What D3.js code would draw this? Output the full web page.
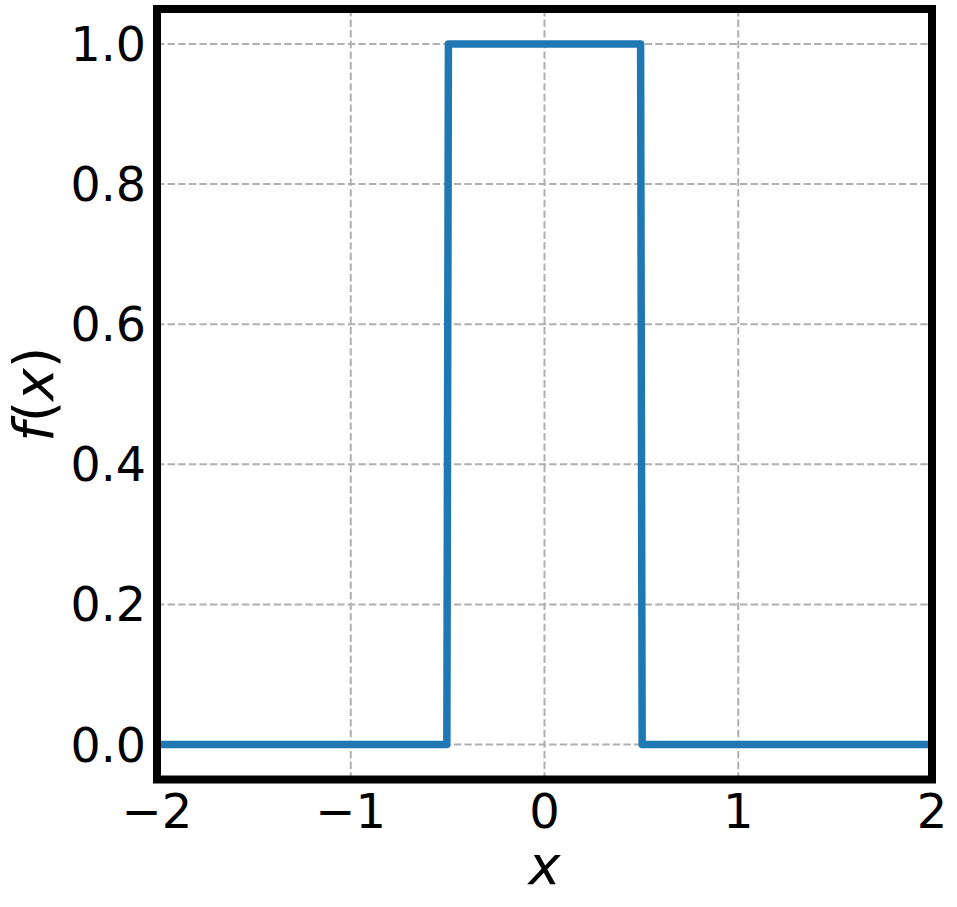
<!DOCTYPE html>
<html><head><meta charset="utf-8">
<script src="https://cdn.jsdelivr.net/npm/d3@7"></script>
<style>body{margin:0;background:#fff}svg{display:block}text{font-family:"DejaVu Sans",sans-serif}</style>
</head><body>
<script>
const xData = [-2, -0.504, -0.496, 0.496, 0.504, 2];
const yData = [0, 0, 1, 1, 0, 0];
const xTicks = [-2, -1, 0, 1, 2];
const yTicks = [0, 0.2, 0.4, 0.6, 0.8, 1.0];

const W = 957, H = 907;
const L = 157, R = 932, T = 9, B = 779.5;
const svg = d3.select("body").append("svg").attr("width", W).attr("height", H);
const x = d3.scaleLinear().domain([-2, 2]).range([L, R]);
const y = d3.scaleLinear().domain([-0.05, 1.05]).range([B, T]);

// grid
const g = svg.append("g");
g.selectAll(".gx").data(xTicks).enter().append("line")
  .attr("x1", d => x(d)).attr("x2", d => x(d)).attr("y1", T).attr("y2", B)
  .attr("stroke", "#b0b0b0").attr("stroke-width", 2).attr("stroke-dasharray", "7.4,3.2");
g.selectAll(".gy").data(yTicks).enter().append("line")
  .attr("y1", d => y(d)).attr("y2", d => y(d)).attr("x1", L).attr("x2", R)
  .attr("stroke", "#b0b0b0").attr("stroke-width", 2).attr("stroke-dasharray", "7.4,3.2");

// line
const pts = xData.map((v, i) => [v, yData[i]]);
svg.append("path").datum(pts)
  .attr("d", d3.line().x(d => x(d[0])).y(d => y(d[1])))
  .attr("fill", "none").attr("stroke", "#1f77b4").attr("stroke-width", 7.5)
  .attr("stroke-linejoin", "round").attr("stroke-linecap", "butt");

// frame
svg.append("rect").attr("x", L).attr("y", T).attr("width", R - L).attr("height", B - T)
  .attr("fill", "none").attr("stroke", "#000").attr("stroke-width", 8);

// axes tick labels
const fmtY = d3.format(".1f");
svg.selectAll(".ty").data(yTicks).enter().append("text")
  .attr("x", 146).attr("y", d => y(d)).attr("dy", "0.36em")
  .attr("text-anchor", "end").attr("font-size", 47.5).text(d => fmtY(d));
svg.selectAll(".tx").data(xTicks).enter().append("text")
  .attr("x", d => x(d)).attr("y", 828)
  .attr("text-anchor", "middle").attr("font-size", 48)
  .text(d => (d < 0 ? "\u2212" + Math.abs(d) : String(d)));

// axis labels
svg.append("text").attr("x", x(0)).attr("y", 884).attr("text-anchor", "middle")
  .attr("font-size", 54).attr("font-style", "italic").text("x");
const yl = svg.append("text").attr("transform", `translate(53,${(T + B) / 2}) rotate(-90)`)
  .attr("text-anchor", "middle").attr("font-size", 55);
yl.append("tspan").attr("font-style", "italic").text("f");
yl.append("tspan").text("(");
yl.append("tspan").attr("font-style", "italic").text("x");
yl.append("tspan").text(")");
</script>
</body></html>
